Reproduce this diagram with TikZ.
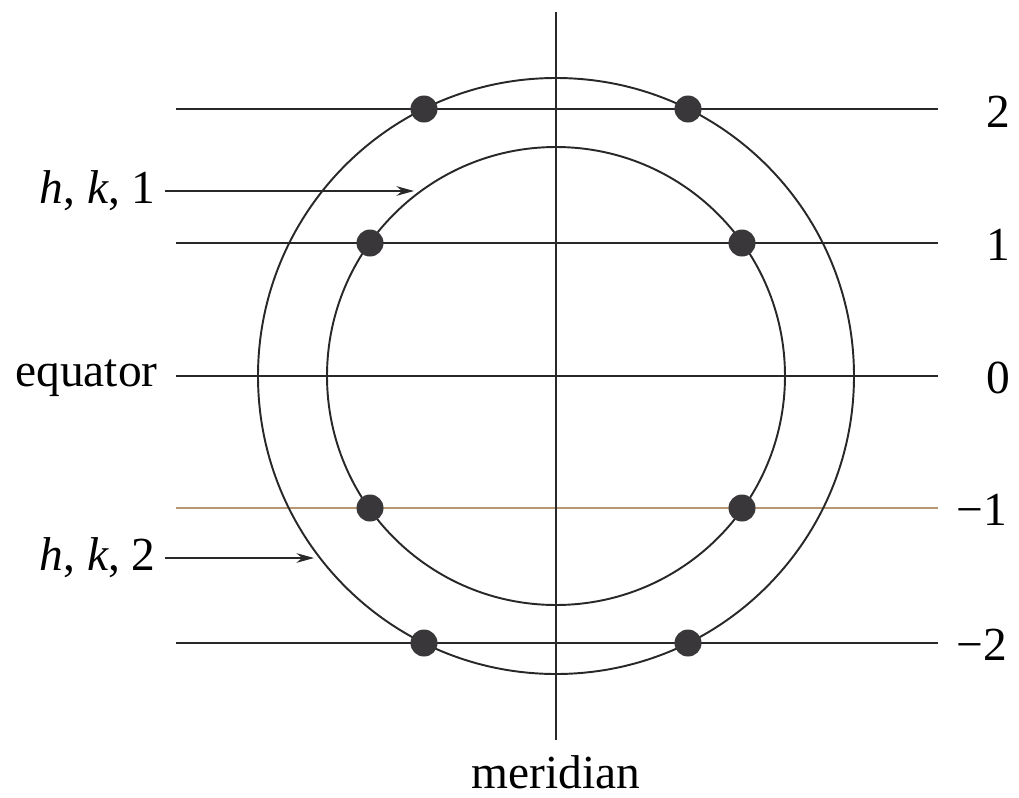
\documentclass[tikz,border=0pt]{standalone}
\usepackage{fontspec}
\setmainfont{Liberation Serif}
\usetikzlibrary{arrows.meta}

\definecolor{dotgray}{RGB}{58,55,58}
\definecolor{linegray}{RGB}{40,40,40}
\definecolor{tanline}{RGB}{185,150,115}

\tikzset{
  lat/.style={line width=0.8pt, linegray},
  ring/.style={line width=1.1pt, linegray},
  site/.style={fill=dotgray},
  lbl/.style={font=\fontsize{27}{32}\selectfont, inner sep=0pt},
  pointer/.style={line width=0.8pt, linegray, -{Stealth[length=10pt,width=5.5pt]}}
}

\begin{document}
\begin{tikzpicture}[x=0.02cm, y=-0.02cm]
      \useasboundingbox (0,0) rectangle (1019,798);
      \coordinate (c) at (556,376);
      % latitude lines
      \foreach \y/\n in {109/2, 243/1, 643/m2} {
        \draw[lat] (176,\y) coordinate (w\n) -- (938,\y) coordinate (e\n);
      }
      \draw[lat, tanline] (176,508) coordinate (wm1) -- (938,508) coordinate (em1);
      \draw[line width=1.4pt, linegray] (176,376) coordinate (w0) -- (938,376) coordinate (e0);
      \draw[line width=1.1pt, linegray] (556,12) coordinate (top) -- (556,740) coordinate (bot);
      % rings
      \draw[ring] (c) circle[radius=298];
      \draw[ring] (c) circle[radius=229];
      % sites
      \foreach \p in {(424,109),(688,109),(370,243),(742,243),(370,508),(742,508),(424,643),(688,643)}
        \fill[site] \p circle[radius=13.5];
      % labels
      \node[lbl] (n2) at (998,112) {2};
      \node[lbl] (n1) at (998,245) {1};
      \node[lbl] (n0) at (998,378) {0};
      \node[lbl] (nm1) at (982,510) {−1};
      \node[lbl] (nm2) at (982,645) {−2};
      \node[lbl, anchor=east] (equator) at (158,378) {equator};
      \node[lbl] (meridian) at (556,772) {meridian};
      \node[lbl, anchor=east] (hk1) at (156,191) {\textit{h}, \textit{k}, 1};
      \node[lbl, anchor=east] (hk2) at (156,558) {\textit{h}, \textit{k}, 2};
      \coordinate (t1) at (414,191);
      \coordinate (t2) at (314,558);
      \draw[pointer] ([xshift=5pt]hk1.east) -- (hk1.east -| t1);
      \draw[pointer] ([xshift=5pt]hk2.east) -- (hk2.east -| t2);
\end{tikzpicture}
\end{document}
